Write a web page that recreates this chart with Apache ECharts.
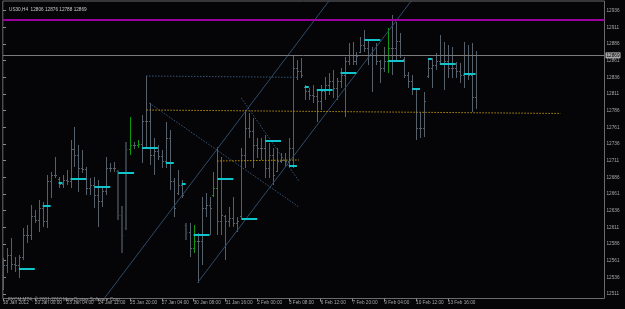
<!DOCTYPE html>
<html>
<head>
<meta charset="utf-8">
<script src="https://cdn.jsdelivr.net/npm/echarts@6/dist/echarts.min.js"></script>
<style>html,body{margin:0;padding:0;background:#050406;}#c{width:625px;height:309px;}</style>
</head>
<body>
<div id="c"></div>
<script>
// ---- data (H4 bars, index 0 = 18 Jan 2012) ----
const opens = [12540,12555,12570,12556,12555,12566,12600,12600,12628,12622,
12640,12620,12680,12690,12684,12676,12682,12680,12728,12720,
12700,12698,12670,12675,12660,12650,12665,12700,12700,12695,
12630,12610,12728,12735,12734,12736,12770,12770,12720,12725,
12718,12710,12745,12680,12662,12674,12615,12604,12580,12590,
12590,12640,12645,12660,12670,12620,12628,12620,12625,12618,
12628,12720,12760,12755,12735,12730,12730,12700,12720,12696,
12710,12712,12710,12730,12850,12845,12822,12815,12810,12808,
12800,12815,12825,12830,12820,12830,12840,12860,12870,12860,
12874,12885,12880,12870,12870,12860,12850,12860,12880,12880,
12890,12864,12840,12830,12818,12760,12760,12838,12850,12855,
12860,12870,12860,12850,12850,12845,12840,12870,12840,12806];
const highs = [12565,12580,12595,12566,12570,12610,12614,12644,12637,12652,
12649,12690,12694,12716,12686,12690,12697,12742,12761,12734,
12727,12701,12685,12686,12682,12671,12716,12707,12709,12697,
12643,12739,12776,12739,12742,12780,12838,12797,12745,12734,
12727,12769,12757,12685,12697,12682,12618,12618,12614,12602,
12656,12662,12656,12694,12732,12716,12630,12641,12656,12626,
12730,12787,12782,12775,12745,12745,12750,12737,12730,12730,
12722,12722,12745,12868,12862,12865,12824,12820,12824,12817,
12824,12836,12842,12847,12835,12850,12866,12887,12889,12874,
12896,12907,12892,12881,12887,12862,12881,12910,12929,12919,
12902,12866,12844,12840,12820,12784,12814,12865,12865,12872,
12899,12889,12884,12881,12859,12857,12889,12884,12887,12876];
const lows = [12517,12543,12547,12544,12535,12562,12588,12592,12618,12604,
12611,12610,12655,12685,12670,12670,12674,12670,12701,12664,
12692,12660,12660,12640,12611,12641,12660,12694,12694,12622,
12572,12607,12720,12728,12730,12707,12731,12704,12690,12712,
12700,12700,12667,12626,12660,12655,12592,12566,12572,12528,
12554,12626,12600,12656,12600,12600,12562,12611,12611,12604,
12625,12700,12745,12700,12715,12712,12685,12685,12674,12694,
12707,12701,12700,12700,12832,12835,12802,12802,12797,12769,
12787,12802,12810,12805,12802,12820,12776,12855,12855,12855,
12872,12874,12855,12814,12855,12827,12844,12842,12840,12862,
12865,12835,12820,12810,12742,12745,12746,12835,12820,12847,
12855,12817,12835,12835,12835,12827,12820,12832,12784,12788];
const closes = [12555,12570,12556,12555,12566,12600,12600,12628,12622,12640,
12620,12680,12690,12690,12676,12682,12680,12728,12720,12700,
12698,12670,12675,12660,12650,12665,12700,12700,12700,12630,
12600,12728,12735,12734,12736,12770,12770,12720,12725,12718,
12710,12745,12680,12640,12674,12660,12604,12580,12590,12590,
12640,12645,12640,12670,12620,12630,12620,12625,12618,12620,
12720,12760,12755,12735,12730,12730,12700,12720,12690,12710,
12712,12710,12730,12850,12845,12840,12815,12810,12808,12800,
12815,12825,12830,12820,12830,12840,12860,12870,12860,12868,
12885,12880,12870,12870,12860,12850,12860,12880,12880,12890,
12870,12840,12830,12820,12760,12760,12800,12850,12855,12860,
12870,12860,12850,12850,12845,12840,12870,12840,12806,12869];
const greenBars = [32,34,48,53,97];
const darkBars = [29,30,31,46];

// daily level segments (cyan)
const levelStart = [4,10,14,17,23,29,35,41,45,48,54,60,66,72,76,79,85,91,97,103,107,110,116];
const levelEnd   = [8,12,15,21,27,33,39,43,46,52,58,64,70,74,77,83,89,95,101,105,108,114,119];
const levelPrice = [12548,12643,12677,12683,12672,12693,12730,12708,12676,12600,12683,12624,12741,12703,12822,12817,12842,12892,12861,12819,12863,12856,12841];

// trend objects: [barIndex, price] pairs
const channelUpper = [[20,12461],[90,13013]];
const channelLower = [[49,12528],[105,12968]];
const dotBlueFlat  = [[36,12838],[74.5,12836]];
const dotBlueDiag1 = [[36.8,12797.5],[74.5,12641.5]];
const dotBlueDiag2 = [[60,12805],[74.5,12680.5]];
const dotGoldLong  = [[36.1,12787],[140.4,12781.8]];
const dotGoldShort = [[53.9,12710.5],[74.5,12712]];

const resistanceLevel = 12923;
const bidPrice = 12869;

// axis ticks
const xTickIdx = [0,8,16,24,32,40,48,56,64,72,80,88,96,104,112];
const xTickLabels = ["18 Jan 2012","20 Jan 00:00","23 Jan 04:00","24 Jan 12:00","25 Jan 20:00","27 Jan 04:00","30 Jan 08:00","31 Jan 16:00","2 Feb 00:00","3 Feb 08:00","6 Feb 12:00","7 Feb 20:00","9 Feb 04:00","10 Feb 12:00","13 Feb 16:00"];
const yTicks = [12511,12536,12561,12586,12611,12636,12661,12686,12711,12736,12761,12786,12811,12836,12861,12886,12911,12936];

const headerText = "US30,H4  12806 12876 12788 12869";
const footerText = "FXCM MT4, \u00A9 2001-2010 MetaQuotes Software Corp.";

// ---- chart ----
const FONT = "Liberation Sans";
const FS = 4.7;
const ohlcData = opens.map((o, i) => [i, o, highs[i], lows[i], closes[i],
  greenBars.includes(i) ? 1 : (darkBars.includes(i) ? 2 : 0)]);
const levelData = levelStart.map((s, i) => [s, levelEnd[i], levelPrice[i]]);

function dotted(data, color) {
  return {type:'line', data, showSymbol:false, symbol:'none', clip:true, silent:true,
    lineStyle:{color, width:1, type:[1.5,1.5]}, z:3};
}

const chart = echarts.init(document.getElementById('c'), null, {renderer:'canvas'});
chart.setOption({
  backgroundColor:'#050406',
  animation:false,
  title:[
    {text:headerText, left:4, top:2, textStyle:{fontSize:FS, color:'#c8c8c8', fontWeight:'normal', fontFamily:FONT}},
    {text:footerText, left:3, top:292, textStyle:{fontSize:FS, color:'#9a9a9a', fontWeight:'normal', fontFamily:FONT}}
  ],
  grid:{left:1.5, right:20.5, top:1, bottom:10.5, show:true, borderColor:'#6b6b6b', borderWidth:1, backgroundColor:'transparent'},
  xAxis:{type:'value', min:-0.05, max:151.45,
    axisLine:{show:false}, splitLine:{show:false},
    axisTick:{show:true, customValues:xTickIdx, length:3, lineStyle:{color:'#8a8a8a'}},
    axisLabel:{show:true, customValues:xTickIdx, align:'left', margin:2, fontSize:FS, color:'#a8a8a8', fontFamily:FONT,
      formatter:(v)=>{const i = xTickIdx.indexOf(Math.round(v)); return i>=0 ? xTickLabels[i] : '';}}
  },
  yAxis:{type:'value', position:'right', min:12504.25, max:12950.5, scale:true,
    axisLine:{show:false}, splitLine:{show:false},
    axisTick:{show:true, customValues:yTicks, length:3, lineStyle:{color:'#8a8a8a'}},
    axisLabel:{show:true, customValues:yTicks, margin:2, fontSize:FS, color:'#a8a8a8', fontFamily:FONT, formatter:(v)=>String(v)}
  },
  series:[
    {type:'custom', name:'bars', data:ohlcData, clip:true, z:2,
      encode:{x:0, y:[2,3]},
      renderItem:(params, api)=>{
        const k = api.value(0);
        const o = api.coord([k, api.value(1)]);
        const h = api.coord([k, api.value(2)]);
        const l = api.coord([k, api.value(3)]);
        const c = api.coord([k, api.value(4)]);
        const kind = api.value(5);
        const col = kind===1 ? '#0b9a0b' : (kind===2 ? '#343b42' : '#56606b');
        const w = kind===2 ? 2 : 1;
        const x = Math.round(h[0]) + (w===1 ? 0.5 : 0);
        return {type:'group', children:[
          {type:'line', shape:{x1:x, y1:Math.round(h[1]), x2:x, y2:Math.round(l[1])}, style:{stroke:col, lineWidth:w}},
          {type:'line', shape:{x1:x-1.5, y1:Math.round(o[1])+0.5, x2:x, y2:Math.round(o[1])+0.5}, style:{stroke:col, lineWidth:1}},
          {type:'line', shape:{x1:x, y1:Math.round(c[1])+0.5, x2:x+1.5, y2:Math.round(c[1])+0.5}, style:{stroke:col, lineWidth:1}}
        ]};
      },
      markLine:{silent:true, symbol:['none','none'], animation:false,
        data:[
          {yAxis:resistanceLevel, lineStyle:{color:'#9a009e', width:2, type:'solid'}, label:{show:false}},
          {yAxis:bidPrice, lineStyle:{color:'#7a7a7a', width:1, type:'solid'},
            label:{show:true, position:'end', distance:1, formatter:String(bidPrice), fontSize:FS, color:'#000', fontFamily:FONT,
              backgroundColor:'#a8a8a8', padding:[1,1,0,1]}}
        ]}
    },
    {type:'custom', name:'levels', data:levelData, clip:true, z:4,
      encode:{x:[0,1], y:2},
      renderItem:(params, api)=>{
        const a = api.coord([api.value(0), api.value(2)]);
        const b = api.coord([api.value(1), api.value(2)]);
        const y = Math.round(a[1]);
        return {type:'line', shape:{x1:a[0], y1:y, x2:b[0], y2:y}, style:{stroke:'#12c4cc', lineWidth:2}};
      }
    },
    {type:'line', data:channelUpper, showSymbol:false, symbol:'none', clip:true, silent:true, lineStyle:{color:'#2e4d6b', width:1}, z:3},
    {type:'line', data:channelLower, showSymbol:false, symbol:'none', clip:true, silent:true, lineStyle:{color:'#2e4d6b', width:1}, z:3},
    dotted(dotBlueFlat, '#35577a'),
    dotted(dotBlueDiag1, '#35577a'),
    dotted(dotBlueDiag2, '#35577a'),
    dotted(dotGoldLong, '#b8900f'),
    dotted(dotGoldShort, '#b8900f')
  ]
});
</script>
</body>
</html>
